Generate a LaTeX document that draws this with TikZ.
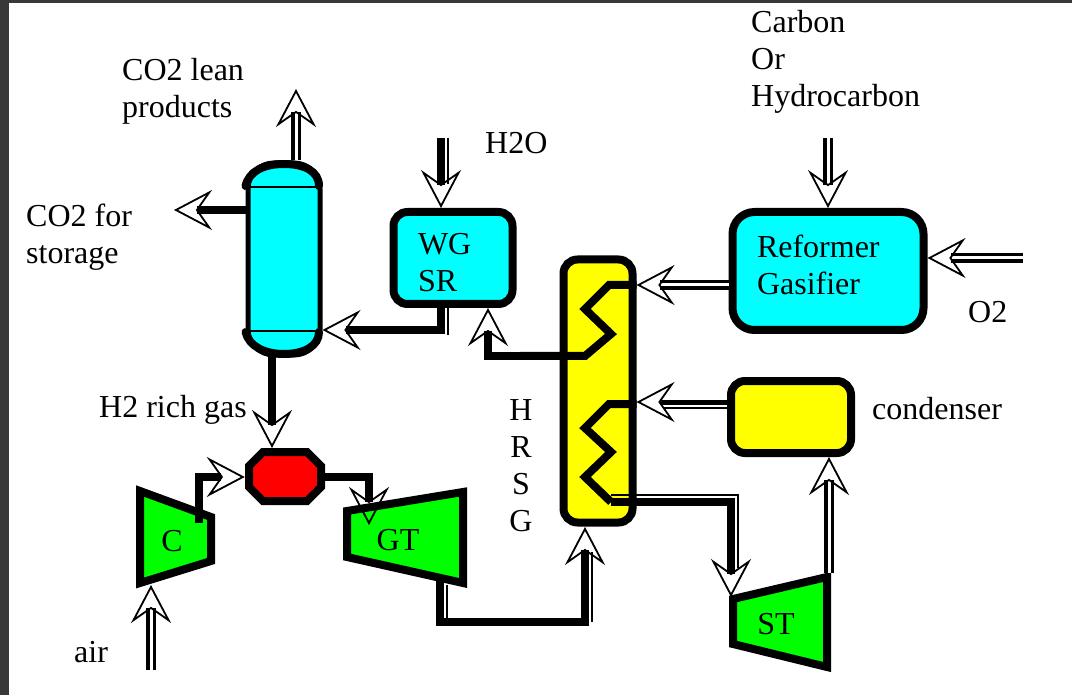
\documentclass[tikz,border=0pt]{standalone}
\usepackage{fontspec}
\setmainfont{Liberation Serif}
\usetikzlibrary{arrows.meta}
\definecolor{vesselcyan}{RGB}{0,255,255}
\definecolor{hotyellow}{RGB}{255,255,0}
\definecolor{turbogreen}{RGB}{0,255,0}
\definecolor{burnred}{RGB}{255,0,0}
\tikzset{
  txt/.style={font=\fontsize{32}{37}\selectfont, inner sep=0pt, align=left},
  unit/.style={draw, line width=8pt, rounded corners=14pt, txt},
  machine/.style={draw, line width=8pt, fill=turbogreen, line join=miter},
  pipe/.style={line width=8pt, -{Stealth[open, length=38pt, width=40pt, inset=14pt, line width=1.8pt]}},
  twinpipe/.style={pipe, line width=3.8pt, double, double distance=3pt},
  plainpipe/.style={line width=8pt},
  edgepipe/.style={line width=1.8pt},
}
\begin{document}
\begin{tikzpicture}[x=1pt, y=-1pt]
  \useasboundingbox (0, 0) rectangle (1072, 695);
  \fill[black!78] (0, 0) rectangle (1072, 695);
  \fill[white] (9, 3) rectangle (1072, 695);

  \node[unit, fill=vesselcyan, rounded corners=26pt, line width=5pt, minimum width=72pt, minimum height=192pt] (tower) at (284, 259) {};
  \draw[line width=8pt, line cap=round] (tower.west |- 0, 186) .. controls (249, 171) and (264, 164) .. (284, 164) .. controls (304, 164) and (319, 171) .. (319, 186);
  \draw[line width=8pt, line cap=round] (tower.west |- 0, 332) .. controls (249, 346) and (264, 354) .. (284, 354) .. controls (304, 354) and (319, 346) .. (319, 332);
  \draw[line width=2pt] (248, 187) -- (320, 187);
  \draw[line width=2pt] (248, 331) -- (320, 331);

  \node[unit, fill=vesselcyan, minimum width=119pt, minimum height=92pt, text width=70pt, text height=22pt, text depth=29pt] (wgsr) at (453, 258) {WG\\SR};
  \node[unit, fill=vesselcyan, rounded corners=22pt, minimum width=191pt, minimum height=118pt, text width=142pt, text height=22pt, text depth=48pt] (reformer) at (828, 271) {Reformer\\Gasifier};
  \node[unit, fill=hotyellow, minimum width=69pt, minimum height=263pt] (hrsg) at (598, 391) {};
  \node[unit, fill=hotyellow, minimum width=120pt, minimum height=72pt] (condenser) at (791, 417) {};
  \draw[line width=8pt, fill=burnred, line join=miter] (263, 452) -- (307, 452) -- (321, 466) -- (321, 487) -- (307, 501) -- (263, 501) -- (249, 487) -- (249, 466) -- cycle;
  \node[inner sep=0pt, minimum width=80pt, minimum height=57pt] (burner) at (285, 477) {};

  \draw[machine] (140, 491) -- (211, 517) -- (211, 561) -- (140, 583) -- cycle;
  \draw[machine] (347, 511) -- (463, 492) -- (463, 583) -- (347, 557) -- cycle;
  \draw[machine] (733, 599) -- (827, 577) -- (827, 667) -- (733, 644) -- cycle;
  \node[txt] (c) at (172, 541) {C};
  \node[txt] (gt) at (398, 540) {GT};
  \node[txt] (st) at (776, 624) {ST};

  \coordinate (leanout) at (296, 89);
  \coordinate (storage) at (174, 210);
  \coordinate (steam) at (441, 138);
  \coordinate (fuel) at (828, 138);
  \coordinate (oxygen) at (1023, 258);
  \coordinate (airin) at (151, 670);
  \coordinate (cin) at (151, 585);
  \coordinate (cout) at (199, 523);
  \coordinate (gtin) at (369, 525);
  \coordinate (gtout) at (440, 580);
  \coordinate (stin) at (731, 597);
  \coordinate (stout) at (829, 573);
  \coordinate (shift) at (488, 308);

  \draw[twinpipe] (leanout |- tower.north) -- (leanout);
  \draw[pipe] (tower.west |- storage) -- (storage);
  \draw[pipe] (steam) -- (steam |- wgsr.north);
  \draw[edgepipe] (448, 138) -- (448, 184);
  \draw[twinpipe] (fuel) -- (fuel |- reformer.north);
  \draw[twinpipe] (oxygen) -- (oxygen -| reformer.east);
  \draw[pipe] (441, 308) |- (tower.east |- 0, 330);
  \draw[edgepipe] (448, 308) -- (448, 335);
  \draw[pipe] (272, 356) -- (272, 448);
  \draw[twinpipe] (airin) -- (cin);
  \draw[pipe] (cout) |- (burner.west);
  \draw[pipe] (burner.east) -| (gtin);

  \draw[plainpipe, line join=miter] (hrsg.east |- 0, 285) -- (609, 285) -- (585, 309) -- (611, 334) -- (585, 356) -- (520, 356);
  \draw[pipe, line join=miter] (585, 356) -| (shift);
  \draw[plainpipe, line join=miter] (hrsg.east |- 0, 404) -- (609, 404) -- (585, 428) -- (611, 452) -- (585, 477) -- (611, 502);
  \draw[pipe] (611, 502) -| (stin);
  \draw[edgepipe] (611, 495) -- (738, 495) -- (738, 568);
  \draw[twinpipe] (reformer.west |- 0, 285) -- (hrsg.east |- 0, 285);
  \draw[pipe, line width=5pt] (condenser.west |- 0, 402) -- (hrsg.east |- 0, 402);
  \draw[edgepipe] (729, 408) -- (663, 408);
  \draw[twinpipe] (stout) -- (stout |- condenser.south);
  \draw[pipe] (gtout) |- (585, 622) -- (585, 527);
  \draw[edgepipe] (447, 585) -- (447, 618);
  \draw[edgepipe] (592, 622) -- (592, 552);

  \node[txt, anchor=west] (leanlabel) at (122, 91) {CO2 lean\\products};
  \node[txt, anchor=west] (storagelabel) at (26, 237) {CO2 for\\storage};
  \node[txt, anchor=west] (steamlabel) at (485, 143) {H2O};
  \node[txt, anchor=west] (fuellabel) at (751, 62) {Carbon\\Or\\Hydrocarbon};
  \node[txt, anchor=west] (oxygenlabel) at (968, 312) {O2};
  \node[txt, anchor=west] (condlabel) at (872, 409) {condenser};
  \node[txt, anchor=west] (gaslabel) at (99, 410) {H2 rich gas};
  \node[txt, anchor=west] (airlabel) at (74, 652) {air};
  \node[txt, align=center] (hrsglabel) at (521, 466) {H\\R\\S\\G};
\end{tikzpicture}
\end{document}
